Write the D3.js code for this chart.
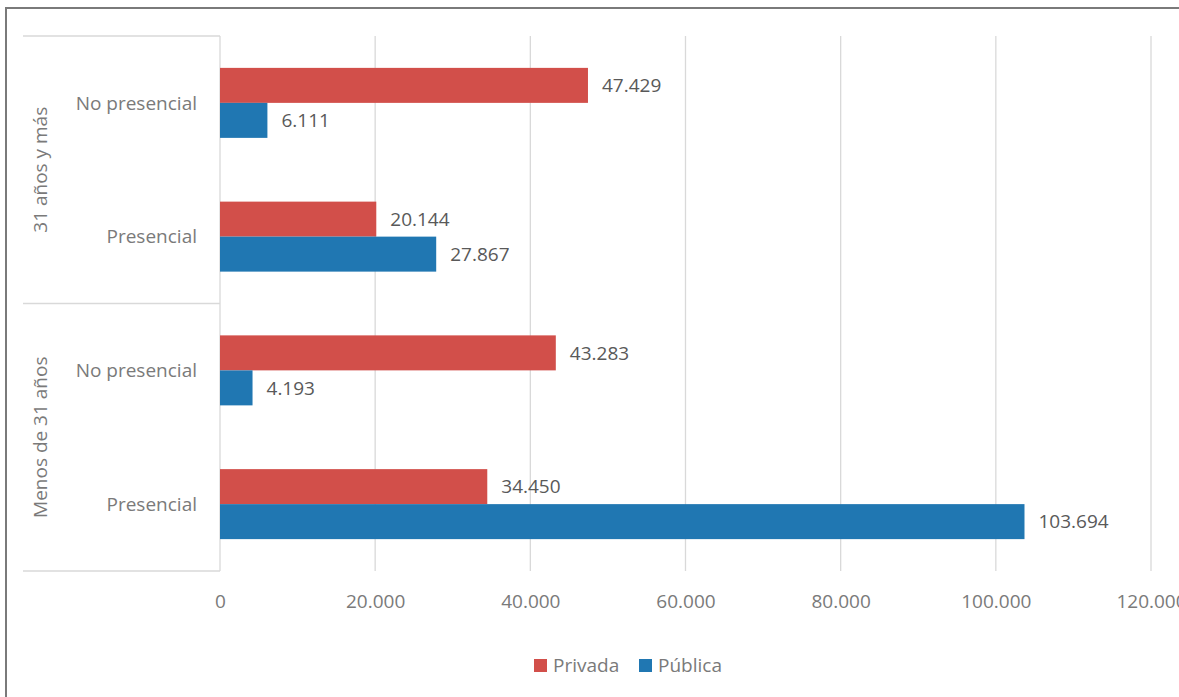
<!DOCTYPE html>
<html>
<head>
<meta charset="utf-8">
<script src="https://cdn.jsdelivr.net/npm/d3@7"></script>
<style>
  html, body { margin: 0; padding: 0; background: #fff; }
  svg { display: block; }
  text { font-family: "Open Sans", "Noto Sans", sans-serif; }
</style>
</head>
<body>
<svg id="chart" width="1179" height="697"></svg>
<script>
// ---- data ----
const groups = ["31 años y más", "Menos de 31 años"];
const categories = ["No presencial", "Presencial"];
const seriesNames = ["Privada", "Pública"];
const privada = [47429, 20144, 43283, 34450];   // order: 31+ NoPres, 31+ Pres, <31 NoPres, <31 Pres
const publica = [6111, 27867, 4193, 103694];
const tickValues = [0, 20000, 40000, 60000, 80000, 100000, 120000];
const tickLabels = ["0", "20.000", "40.000", "60.000", "80.000", "100.000", "120.000"];
const colors = ["#D24F4A", "#2077B2"];

// ---- layout ----
const svg = d3.select("#chart");
const W = 1179, H = 697;
const plotLeft = 220, plotRight = 1151, plotTop = 36, plotBottom = 571;
const groupAxisLeft = 23;

// frame
svg.append("rect").attr("x", 6).attr("y", 8).attr("width", W + 20).attr("height", H + 20)
  .attr("fill", "none").attr("stroke", "#7a7a7a").attr("stroke-width", 2);

const rows = [];
groups.forEach((g, gi) => categories.forEach((c, ci) => rows.push({ key: gi + "|" + ci, g, c, gi })));
rows.forEach((r, i) => { r.vals = [privada[i], publica[i]]; });

const x = d3.scaleLinear().domain([0, 120000]).range([plotLeft, plotRight]);
const y = d3.scaleBand().domain(rows.map(r => r.key)).range([plotTop, plotBottom]).paddingInner(0).paddingOuter(0);
const inner = d3.scaleBand().domain(seriesNames).range([0, 70]);

// gridlines
svg.append("g").selectAll("line").data(tickValues.slice(1)).join("line")
  .attr("x1", d => x(d)).attr("x2", d => x(d))
  .attr("y1", plotTop).attr("y2", plotBottom)
  .attr("stroke", "#D9D9D9").attr("stroke-width", 1.3);

// category axis lines
const axisColor = "#D9D9D9";
svg.append("line").attr("x1", plotLeft).attr("x2", plotLeft).attr("y1", plotTop).attr("y2", plotBottom)
  .attr("stroke", axisColor).attr("stroke-width", 1.3);
const sepYs = [plotTop, y(rows[2].key), plotBottom];
svg.append("g").selectAll("line").data(sepYs).join("line")
  .attr("x1", groupAxisLeft).attr("x2", plotLeft).attr("y1", d => d).attr("y2", d => d)
  .attr("stroke", axisColor).attr("stroke-width", 1.3);

// bars
const bw = 35;
const rowG = svg.append("g").selectAll("g").data(rows).join("g")
  .attr("transform", r => `translate(0,${y(r.key) + y.bandwidth() / 2 - bw})`);
rowG.selectAll("rect").data(r => r.vals.map((v, si) => ({ v, si }))).join("rect")
  .attr("x", x(0)).attr("y", d => d.si * bw)
  .attr("width", d => x(d.v) - x(0)).attr("height", bw)
  .attr("fill", d => colors[d.si]);
const fmt = v => d3.format(",")(v).replace(/,/g, ".");
rowG.selectAll("text").data(r => r.vals.map((v, si) => ({ v, si }))).join("text")
  .attr("x", d => x(d.v) + 14).attr("y", d => d.si * bw + bw / 2)
  .attr("dy", "0.36em").attr("font-size", 19).attr("fill", "#595959")
  .text(d => fmt(d.v));

// category labels
svg.append("g").selectAll("text").data(rows).join("text")
  .attr("x", 197).attr("y", r => y(r.key) + y.bandwidth() / 2)
  .attr("dy", "0.36em").attr("text-anchor", "end").attr("font-size", 19).attr("fill", "#7a7a7a")
  .text(r => r.c);

// group labels
svg.append("g").selectAll("text").data(groups).join("text")
  .attr("transform", (g, gi) => `translate(40,${(sepYs[gi] + sepYs[gi + 1]) / 2}) rotate(-90)`)
  .attr("dy", "0.36em").attr("text-anchor", "middle").attr("font-size", 19).attr("fill", "#7a7a7a")
  .text(g => g);

// value axis
const xAxis = d3.axisBottom(x).tickValues(tickValues).tickFormat((d, i) => tickLabels[i]).tickSize(0).tickPadding(0);
const ax = svg.append("g").attr("transform", `translate(0,${plotBottom})`).call(xAxis);
ax.select(".domain").remove();
ax.selectAll("text").attr("font-size", 19).attr("fill", "#7a7a7a")
  .attr("font-family", "\"Open Sans\", sans-serif").attr("y", 30).attr("dy", "0.36em");

// legend
const legend = svg.append("g");
const legendItems = [{ name: seriesNames[0], x: 534 }, { name: seriesNames[1], x: 639 }];
legendItems.forEach((it, i) => {
  legend.append("rect").attr("x", it.x).attr("y", 659).attr("width", 13).attr("height", 13).attr("fill", colors[i]);
  legend.append("text").attr("x", it.x + 19).attr("y", 665.5).attr("dy", "0.36em")
    .attr("font-size", 19).attr("fill", "#7a7a7a").text(it.name);
});
</script>
</body>
</html>
